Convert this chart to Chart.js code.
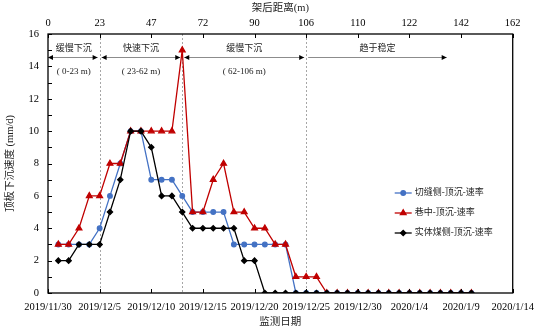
<!DOCTYPE html>
<html>
<head>
<meta charset="utf-8">
<script src="https://cdn.jsdelivr.net/npm/chart.js@4.4.0/dist/chart.umd.min.js"></script>
<style>
  html, body { margin: 0; padding: 0; background: #fff; }
</style>
</head>
<body>
<canvas id="grafico" width="542" height="331"></canvas>
<script>
// dias contados desde 2019/11/30
const dias = [1, 2, 3, 4, 5, 6, 7, 8, 9, 10, 11, 12, 13, 14, 15, 16, 17, 18, 19, 20,
  21, 22, 23, 24, 25, 26, 27, 28, 29, 30, 31, 32, 33, 34, 35, 36, 37, 38, 39, 40, 41];

// velocidades (mm/d)
const qieFengCe = [3, 3, 3, 3, 4, 6, 8, 10, 10, 7, 7, 7, 6, 5, 5, 5, 5, 3, 3, 3,
  3, 3, 3, 0, 0, 0, 0, 0, 0, 0, 0, 0, 0, 0, 0, 0, 0, 0, 0, 0, 0];
const xiangZhong = [3, 3, 4, 6, 6, 8, 8, 10, 10, 10, 10, 10, 15, 5, 5, 7, 8, 5, 5, 4,
  4, 3, 3, 1, 1, 1, 0, 0, 0, 0, 0, 0, 0, 0, 0, 0, 0, 0, 0, 0, 0];
const shiTiMeiCe = [2, 2, 3, 3, 3, 5, 7, 10, 10, 9, 6, 6, 5, 4, 4, 4, 4, 4, 2, 2,
  0, 0, 0, 0, 0, 0, 0, 0, 0, 0, 0, 0, 0, 0, 0, 0, 0, 0, 0, 0, 0];

const nombres = ['切缝侧-顶沉-速率', '巷中-顶沉-速率', '实体煤侧-顶沉-速率'];

// etiquetas de los ejes
const etiquetasFecha = ['2019/11/30', '2019/12/5', '2019/12/10', '2019/12/15', '2019/12/20',
  '2019/12/25', '2019/12/30', '2020/1/4', '2020/1/9', '2020/1/14'];
const etiquetasDist = ['0', '23', '47', '72', '90', '106', '110', '122', '142', '162'];

// limites de las fases (en dias)
const lineasCorte = [5, 13, 25];
const fases = [
  { desde: 0, hasta: 5, texto: '缓慢下沉', sub: '( 0-23 m)', izq: true, der: true },
  { desde: 5, hasta: 13, texto: '快速下沉', sub: '( 23-62 m)', izq: true, der: true },
  { desde: 13, hasta: 25, texto: '缓慢下沉', sub: '( 62-106 m)', izq: true, der: true },
  { desde: 25, hasta: 38.8, texto: '趋于稳定', sub: '', izq: false, der: true }
];

const fuente = "'Liberation Serif', 'Noto Sans CJK SC', serif";

function puntos(serie) {
  return dias.map((d, i) => ({ x: d, y: serie[i] }));
}

function flecha(ctx, x, y, dir) {
  ctx.beginPath();
  ctx.moveTo(x, y);
  ctx.lineTo(x - dir * 5, y - 2.5);
  ctx.lineTo(x - dir * 5, y + 2.5);
  ctx.closePath();
  ctx.fill();
}

const extras = {
  id: 'extras',
  beforeDatasetsDraw(chart) {
    const { ctx, chartArea: a, scales: { x, y } } = chart;
    ctx.save();
    // lineas punteadas de cada fase
    ctx.strokeStyle = '#a6a6a6';
    ctx.lineWidth = 1;
    ctx.setLineDash([2, 2]);
    lineasCorte.forEach(d => {
      const px = Math.round(x.getPixelForValue(d)) + 0.5;
      ctx.beginPath();
      ctx.moveTo(px, a.top);
      ctx.lineTo(px, a.bottom);
      ctx.stroke();
    });
    ctx.setLineDash([]);

    // flechas y textos
    const yf = Math.round(y.getPixelForValue(14.55)) + 0.5;
    fases.forEach(f => {
      const x1 = x.getPixelForValue(f.desde) + (f.desde > 0 ? 2 : 0);
      const x2 = x.getPixelForValue(f.hasta) - 2;
      ctx.strokeStyle = '#8c8c8c';
      ctx.beginPath();
      ctx.moveTo(x1, yf);
      ctx.lineTo(x2, yf);
      ctx.stroke();
      ctx.fillStyle = '#000';
      if (f.izq) flecha(ctx, x1, yf, -1);
      if (f.der) flecha(ctx, x2, yf, 1);
      const xm = (x.getPixelForValue(f.desde) + x.getPixelForValue(f.hasta)) / 2;
      ctx.fillStyle = '#222';
      ctx.textAlign = 'center';
      ctx.textBaseline = 'middle';
      ctx.font = '9px ' + fuente;
      ctx.fillText(f.texto, xm, y.getPixelForValue(15.1));
      if (f.sub) ctx.fillText(f.sub, xm, y.getPixelForValue(13.7));
    });
    ctx.restore();
  },
  afterDraw(chart) {
    const { ctx, chartArea: a, scales: { x, y } } = chart;
    ctx.save();
    // marco
    ctx.strokeStyle = '#000';
    ctx.lineWidth = 1.3;
    ctx.strokeRect(a.left, a.top, a.right - a.left, a.bottom - a.top);
    // marcas hacia adentro
    ctx.lineWidth = 1;
    ctx.beginPath();
    for (let v = 0; v <= 16; v++) {
      const py = Math.round(y.getPixelForValue(v)) + 0.5;
      ctx.moveTo(a.left, py);
      ctx.lineTo(a.left + 4, py);
    }
    for (let d = 0; d <= 45; d += 5) {
      const px = Math.round(x.getPixelForValue(d)) + 0.5;
      ctx.moveTo(px, a.bottom);
      ctx.lineTo(px, a.bottom - 4);
      ctx.moveTo(px, a.top);
      ctx.lineTo(px, a.top + 4);
    }
    ctx.stroke();

    // leyenda dentro del area
    const lx = a.right - 118;
    let ly = a.top + 159;
    chart.data.datasets.forEach(ds => {
      ctx.strokeStyle = ds.borderColor;
      ctx.lineWidth = 1.3;
      ctx.beginPath();
      ctx.moveTo(lx, ly);
      ctx.lineTo(lx + 17, ly);
      ctx.stroke();
      Chart.helpers.drawPoint(ctx, {
        pointStyle: ds.pointStyle, radius: ds.pointRadius, rotation: 0, borderWidth: 1
      }, lx + 8.5, ly);
      ctx.fillStyle = ds.borderColor;
      ctx.fill();
      ctx.fillStyle = '#222';
      ctx.textAlign = 'left';
      ctx.textBaseline = 'middle';
      ctx.font = '9px ' + fuente;
      ctx.fillText(ds.label, lx + 20, ly);
      ly += 20;
    });
    ctx.restore();
  }
};

const ctx = document.getElementById('grafico').getContext('2d');
const grafico = new Chart(ctx, {
  type: 'line',
  data: {
    datasets: [
      {
        label: nombres[0],
        data: puntos(qieFengCe),
        borderColor: '#4472C4',
        backgroundColor: '#4472C4',
        pointStyle: 'circle',
        pointRadius: 2.3,
        borderWidth: 1.3,
        order: 3
      },
      {
        label: nombres[1],
        data: puntos(xiangZhong),
        borderColor: '#C00000',
        backgroundColor: '#C00000',
        pointStyle: 'triangle',
        pointRadius: 3.3,
        borderWidth: 1.3,
        order: 2
      },
      {
        label: nombres[2],
        data: puntos(shiTiMeiCe),
        borderColor: '#000000',
        backgroundColor: '#000000',
        pointStyle: 'rectRot',
        pointRadius: 2.6,
        borderWidth: 1.3,
        order: 1
      }
    ]
  },
  options: {
    responsive: false,
    animation: false,
    layout: { padding: { left: 0, right: 26, top: 0, bottom: 0 } },
    elements: { point: { borderWidth: 1 }, line: { tension: 0 } },
    plugins: {
      legend: { display: false },
      tooltip: { enabled: false }
    },
    scales: {
      x: {
        type: 'linear',
        position: 'bottom',
        min: 0,
        max: 45,
        grid: { display: false, drawTicks: false },
        border: { display: false },
        ticks: {
          stepSize: 5,
          autoSkip: false,
          maxRotation: 0,
          padding: 8,
          color: '#000',
          font: { family: fuente, size: 10.5 },
          callback: v => etiquetasFecha[Math.round(v / 5)]
        },
        title: {
          display: true,
          text: '监测日期',
          color: '#222',
          font: { family: fuente, size: 10.5 },
          padding: { top: 0, bottom: 2 }
        },
        afterFit: s => { s.height = 38; }
      },
      x2: {
        type: 'linear',
        axis: 'x',
        position: 'top',
        min: 0,
        max: 45,
        grid: { display: false, drawTicks: false },
        border: { display: false },
        ticks: {
          stepSize: 5,
          autoSkip: false,
          maxRotation: 0,
          padding: 4,
          color: '#000',
          font: { family: fuente, size: 10.5 },
          callback: v => etiquetasDist[Math.round(v / 5)]
        },
        title: {
          display: true,
          text: '架后距离(m)',
          color: '#222',
          font: { family: fuente, size: 10.5 },
          padding: { top: 2, bottom: 0 }
        },
        afterFit: s => { s.height = 34; }
      },
      y: {
        min: 0,
        max: 16,
        grid: { display: false, drawTicks: false },
        border: { display: false },
        ticks: {
          stepSize: 2,
          padding: 9,
          color: '#000',
          font: { family: fuente, size: 10.5 }
        },
        title: {
          display: true,
          text: '顶板下沉速度 (mm/d)',
          color: '#222',
          font: { family: fuente, size: 10.5 },
          padding: { top: 4, bottom: 0 }
        },
        afterFit: s => { s.width = 48; }
      }
    }
  },
  plugins: [extras]
});
</script>
</body>
</html>
